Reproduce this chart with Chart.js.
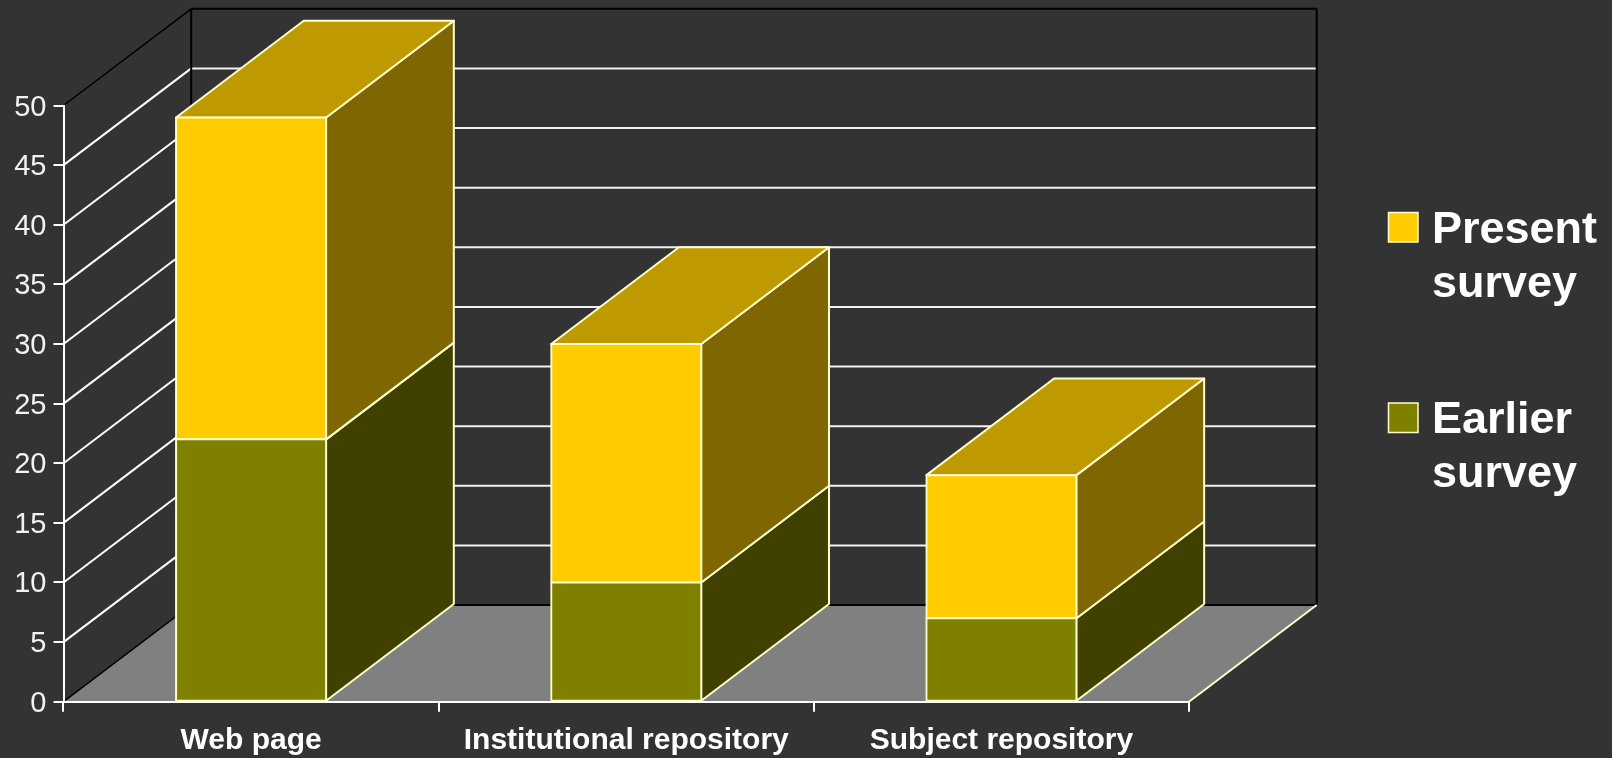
<!DOCTYPE html>
<html>
<head>
<meta charset="utf-8">
<title>Survey chart</title>
<script src="https://cdn.jsdelivr.net/npm/chart.js@4/dist/chart.umd.min.js"></script>
<style>
  html, body { margin: 0; padding: 0; background: #333333; }
  canvas { display: block; }
</style>
</head>
<body>
<canvas id="surveyChart" width="1612" height="758"></canvas>
<script>
// Chart data
const categories = ["Web page", "Institutional repository", "Subject repository"];
const earlierSurvey = [22, 10, 7];
const presentSurvey = [27, 20, 12];
const yTicks = [0, 5, 10, 15, 20, 25, 30, 35, 40, 45, 50];

// 3D look
const depthX = 127.7;
const depthY = 96.7;
const fontFamily = "'Liberation Sans', Arial, sans-serif";
const edgeColor = "#FFFFCC";

function poly(ctx, points, fill, stroke, width) {
  ctx.beginPath();
  points.forEach((p, i) => (i ? ctx.lineTo(p[0], p[1]) : ctx.moveTo(p[0], p[1])));
  ctx.closePath();
  if (fill) {
    ctx.fillStyle = fill;
    ctx.fill();
  }
  if (stroke) {
    ctx.strokeStyle = stroke;
    ctx.lineWidth = width;
    ctx.stroke();
  }
}

function line(ctx, x1, y1, x2, y2, color, width) {
  ctx.beginPath();
  ctx.moveTo(x1, y1);
  ctx.lineTo(x2, y2);
  ctx.strokeStyle = color;
  ctx.lineWidth = width;
  ctx.stroke();
}

// Walls, floor and the side/top faces of the bars
const box3d = {
  id: "box3d",
  beforeDatasetsDraw(chart) {
    const ctx = chart.ctx;
    const area = chart.chartArea;
    const yScale = chart.scales.y;
    const backLeft = area.left + depthX;
    const backRight = area.right + depthX;
    const y0 = yScale.getPixelForValue(0);
    ctx.save();
    ctx.lineJoin = "round";

    // gridlines on the side wall and the back wall
    yTicks.forEach((v) => {
      const y = yScale.getPixelForValue(v);
      if (v === 0) return;
      if (v === 50) {
        line(ctx, area.left, y, backLeft, y - depthY, "#000000", 1.5);
        line(ctx, backLeft, y - depthY, backRight, y - depthY, "#000000", 2);
      } else {
        line(ctx, area.left, y, backLeft, y - depthY, "#FFFFFF", 2);
        line(ctx, backLeft, y - depthY, backRight, y - depthY, "#F2F2F2", 2);
      }
    });
    line(ctx, backLeft, area.top - depthY, backLeft, y0 - depthY, "#000000", 2);
    line(ctx, backRight, area.top - depthY, backRight, y0 - depthY, "#000000", 2);

    // floor
    poly(ctx, [[area.left, y0], [area.right, y0], [backRight, y0 - depthY], [backLeft, y0 - depthY]], "#808080");
    line(ctx, backLeft, y0 - depthY, backRight, y0 - depthY, "#000000", 2);
    line(ctx, area.left, y0, backLeft, y0 - depthY, "#000000", 1.5);
    line(ctx, area.right, y0, backRight, y0 - depthY, edgeColor, 2);

    // bar faces
    chart.data.datasets.forEach((ds, d) => {
      chart.getDatasetMeta(d).data.forEach((bar) => {
        const left = bar.x - bar.width / 2;
        const right = bar.x + bar.width / 2;
        poly(ctx, [[right, bar.y], [right + depthX, bar.y - depthY], [right + depthX, bar.base - depthY], [right, bar.base]], ds.sideColor, edgeColor, 2);
        if (d === chart.data.datasets.length - 1) {
          poly(ctx, [[left, bar.y], [left + depthX, bar.y - depthY], [right + depthX, bar.y - depthY], [right, bar.y]], ds.topColor, edgeColor, 2);
        }
      });
    });
    ctx.restore();
  },
  // Legend on the right, two lines per entry
  afterDraw(chart) {
    const ctx = chart.ctx;
    const entries = chart.data.datasets.slice().reverse();
    ctx.save();
    ctx.font = "bold 45px " + fontFamily;
    ctx.textBaseline = "alphabetic";
    entries.forEach((ds, i) => {
      const top = 212.5 + i * 190.5;
      ctx.fillStyle = ds.backgroundColor;
      ctx.strokeStyle = edgeColor;
      ctx.lineWidth = 1.5;
      ctx.fillRect(1388.5, top, 29.5, 29.5);
      ctx.strokeRect(1388.5, top, 29.5, 29.5);
      ctx.fillStyle = "#FFFFFF";
      ds.label.split(" ").forEach((word, n) => {
        ctx.fillText(word, 1432, top + 30 + n * 54);
      });
    });
    ctx.restore();
  },
};

new Chart(document.getElementById("surveyChart").getContext("2d"), {
  type: "bar",
  plugins: [box3d],
  data: {
    labels: categories,
    datasets: [
      {
        label: "Earlier survey",
        data: earlierSurvey,
        backgroundColor: "#808000",
        sideColor: "#404000",
        topColor: "#606000",
      },
      {
        label: "Present survey",
        data: presentSurvey,
        backgroundColor: "#FFCC00",
        sideColor: "#806600",
        topColor: "#BF9900",
      },
    ],
  },
  options: {
    responsive: false,
    animation: false,
    layout: { autoPadding: false, padding: { top: 105.5, right: 423, bottom: 0, left: 0 } },
    datasets: {
      bar: {
        barPercentage: 0.4,
        categoryPercentage: 1,
        borderColor: edgeColor,
        borderWidth: 2,
        borderSkipped: false,
        inflateAmount: 1,
      },
    },
    plugins: {
      legend: { display: false },
      tooltip: { enabled: false },
    },
    scales: {
      x: {
        stacked: true,
        afterFit: (scale) => { scale.height = 56.3; },
        grid: { offset: true, drawOnChartArea: false, color: "#FFFFFF", lineWidth: 2, tickLength: 10, z: 1 },
        border: { color: "#FFFFFF", width: 2, z: 1 },
        ticks: {
          color: "#FFFFFF",
          padding: 11,
          maxRotation: 0,
          autoSkip: false,
          font: { family: fontFamily, size: 30, weight: "bold" },
        },
      },
      y: {
        stacked: true,
        min: 0,
        max: 50,
        afterFit: (scale) => { scale.width = 63.5; },
        afterBuildTicks: (scale) => { scale.ticks = yTicks.map((value) => ({ value })); },
        grid: { drawOnChartArea: false, color: "#FFFFFF", lineWidth: 2, tickLength: 10, z: 1 },
        border: { color: "#FFFFFF", width: 2, z: 1 },
        ticks: {
          color: "#F2F2F2",
          padding: 7,
          // empty first line nudges the number down to sit where the reference has it
          callback: (value) => ["", String(value)],
          font: { family: fontFamily, size: 29, lineHeight: "4px" },
        },
      },
    },
  },
});
</script>
</body>
</html>
